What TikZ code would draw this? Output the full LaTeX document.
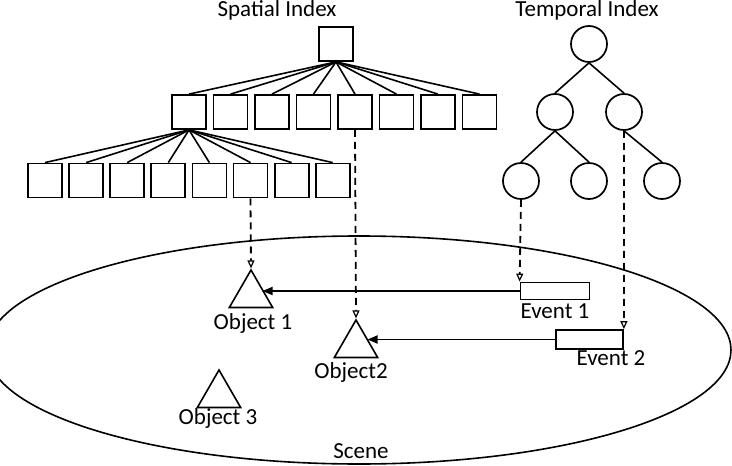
\documentclass[tikz,border=0pt]{standalone}
\usepackage{fontspec}
\setmainfont{Carlito}
\usetikzlibrary{shapes.geometric,arrows.meta}
\begin{document}
\begin{tikzpicture}[x=1pt,y=-1pt,
  sq/.style={draw,line width=1.8pt,minimum size=34pt,inner sep=0pt},
  circ/.style={draw,circle,line width=1.7pt,minimum size=36pt,inner sep=0pt},
  tri/.style={draw,regular polygon,regular polygon sides=3,minimum size=50pt,inner sep=0pt,line width=1.6pt},
  evbox/.style={draw,rectangle,line width=1.8pt,inner sep=0pt},
  lbl/.style={font=\fontsize{23}{27}\selectfont,inner sep=0pt},
  edge/.style={line width=1.6pt},
  dlink/.style={line width=1.8pt,dash pattern=on 7pt off 5pt,-{Triangle[open,length=8pt,width=7pt,line width=1.2pt]}},
  slink/.style={line width=1.8pt,-{Triangle[length=10pt,width=8pt]}}]
\useasboundingbox (0,0) rectangle (732,466);
\fill[white] (0,0) rectangle (732,466);
\clip (0,0) rectangle (732,466);
% scene
\node[draw,ellipse,line width=1.6pt,minimum width=744pt,minimum height=228pt,inner sep=0pt] (scene) at (359,350) {};
\node[lbl] (scenel) at (361,451) {Scene};
% titles
\node[lbl] (spt) at (277,10.5) {Spatial Index};
\node[lbl] (tmp) at (587,10.5) {Temporal Index};
% spatial index
\node[sq] (s0) at (336,44) {};
\foreach \i in {1,...,8} {
  \node[sq] (s\i) at ({189+41.5*(\i-1)},112) {};
  \draw[edge] (s0.south) -- (s\i.north);
}
\foreach \i in {1,...,8} {
  \node[sq] (l\i) at ({45+41.1*(\i-1)},180.5) {};
  \draw[edge] (s1.south) -- (l\i.north);
}
% temporal index
\node[circ] (t0) at (589,44) {};
\node[circ] (t1) at (555,112) {};
\node[circ] (t2) at (624,112) {};
\node[circ] (t3) at (521,181) {};
\node[circ] (t4) at (589,181) {};
\node[circ] (t5) at (662,181) {};
\draw[edge] (t0.south) -- (t1.north);
\draw[edge] (t0.south) -- (t2.north);
\draw[edge] (t1.south) -- (t3.north);
\draw[edge] (t1.south) -- (t4.north);
\draw[edge] (t2.south) -- (t5.north);
% objects
\node[tri] (o1) at (251,295) {};
\node[lbl] (o1l) at (253,323) {Object 1};
\node[tri] (o2) at (356,345) {};
\node[lbl] (o2l) at (351,372) {Object2};
\node[tri] (o3) at (219,395) {};
\node[lbl] (o3l) at (218,418) {Object 3};
% events
\node[evbox,minimum width=69pt,minimum height=17pt] (e1) at (555,291) {};
\node[lbl] (e1l) at (555,311) {Event 1};
\node[evbox,minimum width=67pt,minimum height=19pt] (e2) at (589.5,339.5) {};
\node[lbl] (e2l) at (611,358) {Event 2};
% links
\draw[dlink] (l6.south) -- (o1.corner 1);
\draw[dlink] (s5.south) -- (o2.corner 1);
\draw[dlink] (t3.south) -- (e1.north west);
\draw[dlink] (t2.south) -- (e2.north east);
\draw[slink] (e1.west) -- (o1.side 3 |- e1.west);
\draw[slink] (e2.west) -- (o2.side 3 |- e2.west);
\end{tikzpicture}
\end{document}
